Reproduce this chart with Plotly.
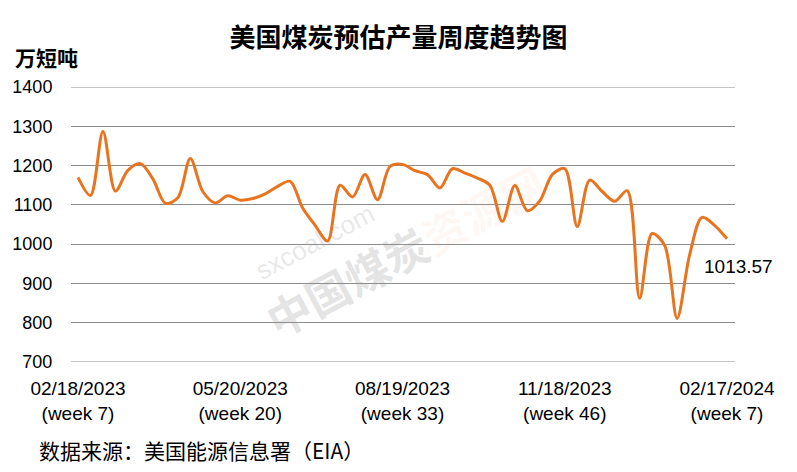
import plotly.graph_objects as go
import pandas as pd

# weekly estimated US coal production (万短吨)
weeks = [d.strftime("%m/%d/%Y") for d in pd.date_range("2023-02-18", periods=53, freq="7D")]
values = [1170, 1124, 1287, 1135, 1188, 1205, 1166, 1104, 1118, 1218,
          1134, 1105, 1123, 1112, 1116, 1128, 1147, 1160, 1092, 1048,
          1008, 1150, 1120, 1177, 1113, 1198, 1203, 1187, 1177, 1143,
          1192, 1181, 1168, 1150, 1058, 1149, 1085, 1110, 1177, 1192,
          1045, 1163, 1134, 1109, 1136, 862, 1027, 997, 811, 972,
          1068, 1048, 1013.57]
tick_dates = ["02/18/2023", "05/20/2023", "08/19/2023", "11/18/2023", "02/17/2024"]
tick_weeks = ["(week 7)", "(week 20)", "(week 33)", "(week 46)", "(week 7)"]
yticks = [700, 800, 900, 1000, 1100, 1200, 1300, 1400]
last_label = "1013.57"

LAT = "Liberation Sans, Arial, sans-serif"
CJK = "Noto Sans CJK SC, sans-serif"
GRID = "#8C8C8C"

x_idx = list(range(len(values)))
tick_idx = [weeks.index(d) for d in tick_dates]

fig = go.Figure()
# edge gridlines (plotly hides gridlines lying on the plot border)
for yv in (yticks[0], yticks[-1]):
    fig.add_hline(y=yv, line=dict(color=GRID, width=1), layer="below")
fig.add_trace(go.Scatter(
    x=x_idx, y=values, mode="lines",
    line=dict(color="#E8741F", width=3, shape="spline", smoothing=0.9),
    hoverinfo="skip", showlegend=False))

fig.update_layout(
    width=797, height=472,
    margin=dict(l=71, r=62, t=87, b=110),
    paper_bgcolor="white", plot_bgcolor="white",
    title=dict(text="<b>美国煤炭预估产量周度趋势图</b>", x=0.5, xanchor="center",
               y=1 - 38 / 472, yanchor="middle", yref="container",
               font=dict(family=CJK, size=26, color="#000000")),
    xaxis=dict(range=[-0.56, 52.64], showgrid=False, zeroline=False, showline=False,
               tickmode="array", tickvals=tick_idx,
               ticktext=[f"{d}<br>{w}" for d, w in zip(tick_dates, tick_weeks)],
               ticks="outside", ticklen=9, tickcolor="rgba(0,0,0,0)",
               tickfont=dict(family=LAT, size=19, color="#000000")),
    yaxis=dict(range=[700, 1400], tickmode="array", tickvals=yticks,
               showgrid=True, gridcolor=GRID, gridwidth=1,
               zeroline=False, showline=False,
               ticks="outside", ticklen=14, tickcolor="rgba(0,0,0,0)",
               tickfont=dict(family=LAT, size=18, color="#000000")),
    annotations=[
        dict(text="<b>万短吨</b>", xref="paper", yref="paper", x=(13 - 71) / 664,
             y=(362 - 57) / 275, xanchor="left", yanchor="middle", showarrow=False,
             font=dict(family=CJK, size=21, color="#000000")),
        dict(text=last_label, xref="paper", yref="paper", x=(702 - 71) / 664,
             y=(362 - 266) / 275, xanchor="left", yanchor="middle", showarrow=False,
             font=dict(family=LAT, size=19, color="#000000")),
        dict(text="数据来源：美国能源信息署（EIA）", xref="paper", yref="paper",
             x=(37 - 71) / 664, y=(362 - 450) / 275, xanchor="left", yanchor="middle",
             showarrow=False, font=dict(family=CJK, size=21, color="#000000")),
        # faint watermark
        dict(text="<b>中国煤炭</b><b><span style='color:rgba(240,130,80,0.25)'>资源网</span></b>",
             xref="paper", yref="paper", x=(405 - 71) / 664, y=(362 - 250) / 275,
             xanchor="center", yanchor="middle", textangle=-28, showarrow=False,
             font=dict(family=CJK, size=44, color="rgba(150,150,150,0.25)")),
        dict(text="sxcoal.com", xref="paper", yref="paper", x=(315 - 71) / 664,
             y=(362 - 242) / 275, xanchor="center", yanchor="middle", textangle=-28,
             showarrow=False, font=dict(family=LAT, size=26, color="rgba(150,150,150,0.22)")),
    ],
)

fig.write_html("out.html", config={"displayModeBar": False},
               post_script="document.body.style.margin='0px';")
